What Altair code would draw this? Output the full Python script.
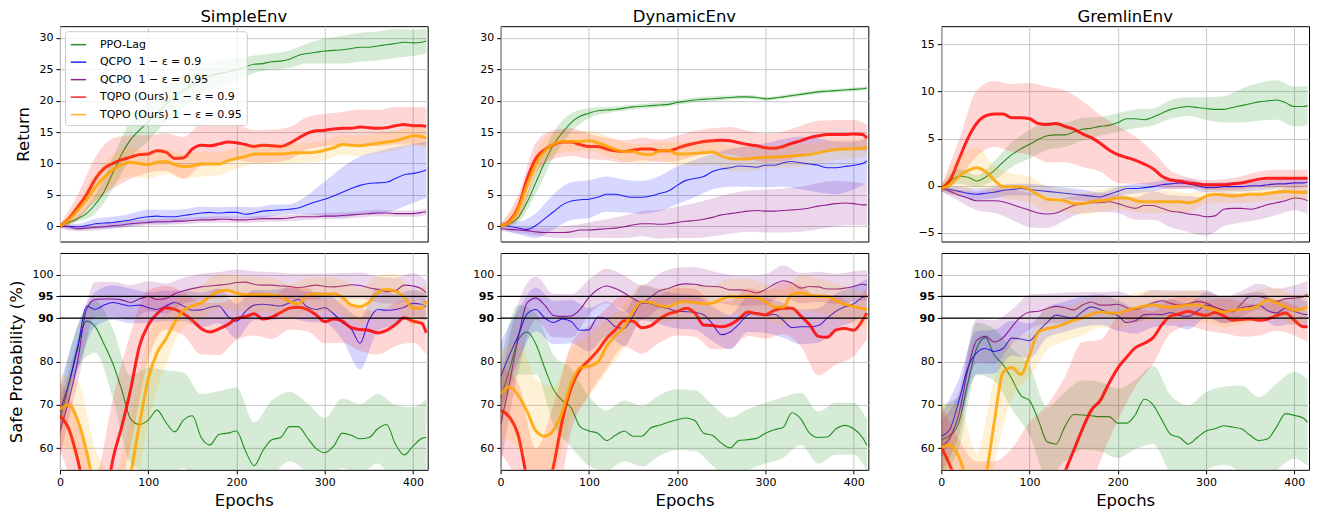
import altair as alt
import pandas as pd

# ---------------- axes / categories ----------------
EPOCHS = list(range(0, 420, 10)) + [415]          # 43 sample epochs
BAND_IDX = list(range(0, 42, 2)) + [42]           # band samples: 0,20,...,400,415
ENVS = ["SimpleEnv", "DynamicEnv", "GremlinEnv"]
SERIES = ["PPO-Lag", "QCPO\u00a0\u00a01 − ε = 0.9", "QCPO\u00a0\u00a01 − ε = 0.95",
          "TQPO (Ours) 1 − ε = 0.9", "TQPO (Ours) 1 − ε = 0.95"]
COLORS = ["#008000", "#0000ff", "#800080", "#ff0000", "#ffa500"]
LINE_WIDTHS = [1.1, 1.1, 1.1, 3.0, 3.0]
X_TICKS = [0, 100, 200, 300, 400]
RET_TICKS_A = [0, 5, 10, 15, 20, 25, 30]
RET_TICKS_G = [-5, 0, 5, 10, 15]
SAFE_TICKS = [60, 70, 80, 90, 95, 100]
SAFE_LEVELS = [90, 95]

# ---------------- Return: SimpleEnv ----------------
S_RET_PPO = [0, 0.6, 1.2, 2.0, 3.5, 5.5, 8.5, 11.5, 13.8, 15.3, 16.6, 18.0, 19.4, 20.6, 21.6, 22.5, 23.3, 23.9, 24.3, 24.6, 24.9, 25.4, 25.8, 25.9, 26.2, 26.3, 26.6, 27.2, 27.5, 27.7, 27.9, 28.0, 28.1, 28.3, 28.5, 28.5, 28.7, 28.9, 29.1, 29.3, 29.2, 29.3, 29.5]
S_RET_QC90 = [0, 0.0, -0.1, 0.1, 0.4, 0.5, 0.6, 0.8, 1.0, 1.3, 1.5, 1.6, 1.5, 1.5, 1.7, 1.9, 2.1, 2.2, 2.1, 2.2, 2.2, 1.9, 2.1, 2.4, 2.5, 2.6, 2.7, 2.9, 3.4, 3.9, 4.3, 4.8, 5.4, 6.0, 6.5, 6.8, 6.9, 7.0, 7.6, 8.2, 8.4, 8.7, 9.0]
S_RET_QC95 = [0, -0.1, -0.4, -0.3, -0.2, -0.1, 0.1, 0.2, 0.4, 0.5, 0.6, 0.7, 0.7, 0.8, 0.8, 0.9, 1.0, 1.0, 1.1, 1.1, 1.0, 1.0, 1.1, 1.2, 1.2, 1.2, 1.3, 1.5, 1.5, 1.5, 1.6, 1.6, 1.7, 1.8, 1.9, 2.0, 2.1, 2.1, 2.0, 2.0, 2.0, 2.2, 2.3]
S_RET_TQ90 = [0, 1.2, 3.0, 5.0, 7.5, 9.2, 10.0, 10.6, 11.0, 11.4, 11.5, 12.0, 11.8, 10.8, 10.9, 12.3, 12.9, 12.8, 13.1, 13.4, 13.3, 13.0, 12.7, 12.9, 12.8, 12.7, 13.2, 14.0, 14.8, 15.2, 15.3, 15.5, 15.6, 15.6, 15.8, 15.7, 15.6, 15.7, 16.0, 16.2, 16.0, 16.0, 15.9]
S_RET_TQ95 = [0, 1.0, 2.5, 4.2, 6.2, 7.8, 9.0, 9.8, 10.2, 10.0, 9.8, 10.2, 10.3, 9.8, 9.5, 9.6, 9.9, 9.9, 9.9, 10.4, 10.8, 11.1, 11.5, 11.5, 11.5, 11.5, 11.6, 11.7, 11.7, 11.8, 12.1, 12.5, 13.0, 12.9, 12.8, 13.0, 13.2, 13.4, 13.6, 14.0, 14.4, 14.3, 14.0]
S_RET_BAND_PPO = [0.3, 0.5, 1.5, 2.5, 3.0, 3.0, 2.8, 2.6, 2.4, 2.2, 1.8, 1.4, 1.3, 1.4, 1.6, 2.0, 2.2, 2.3, 2.3, 2.3, 2.1, 2.0]
S_RET_BAND_QC90 = [0.3, 0.5, 0.8, 0.9, 1.0, 1.1, 1.1, 1.0, 1.0, 0.9, 0.9, 0.9, 0.9, 0.8, 1.5, 2.8, 4.0, 4.6, 5.0, 5.0, 4.7, 4.5]
S_RET_BAND_QC95 = [0.3, 0.4, 0.5, 0.5, 0.5, 0.5, 0.5, 0.5, 0.5, 0.5, 0.5, 0.5, 0.5, 0.5, 0.5, 0.5, 0.5, 0.5, 0.5, 0.5, 0.5, 0.5]
S_RET_BAND_TQ90 = [0.3, 2.0, 3.5, 4.0, 3.5, 3.0, 3.0, 3.3, 3.3, 3.0, 2.8, 2.6, 2.6, 2.6, 2.6, 2.6, 2.6, 2.8, 2.9, 3.0, 3.0, 3.0]
S_RET_BAND_TQ95 = [0.3, 1.3, 2.2, 2.4, 2.3, 2.2, 2.0, 2.0, 2.0, 1.8, 1.7, 1.6, 1.6, 1.6, 1.6, 1.6, 1.6, 1.6, 1.6, 1.6, 1.6, 1.6]

# ---------------- Return: DynamicEnv ----------------
D_RET_PPO = [0, 0.4, 1.4, 3.8, 7.0, 10.2, 13.0, 14.9, 16.5, 17.5, 18.0, 18.4, 18.5, 18.6, 18.8, 19.0, 19.1, 19.2, 19.3, 19.4, 19.7, 19.9, 20.1, 20.2, 20.3, 20.4, 20.5, 20.6, 20.6, 20.5, 20.3, 20.4, 20.6, 20.8, 21.0, 21.2, 21.4, 21.5, 21.6, 21.7, 21.8, 21.9, 22.0]
D_RET_QC90 = [0.1, 0.0, -0.3, -0.5, 0.1, 1.2, 2.3, 3.4, 4.0, 4.2, 4.3, 4.6, 5.1, 5.1, 4.8, 4.6, 4.6, 4.8, 5.2, 5.6, 6.5, 7.3, 7.6, 7.9, 8.7, 9.1, 9.3, 9.6, 9.5, 9.4, 9.7, 9.7, 10.1, 10.3, 10.1, 9.9, 9.7, 9.3, 9.3, 9.5, 9.7, 10.0, 10.4]
D_RET_QC95 = [-0.4, -0.5, -0.6, -0.7, -0.9, -1.0, -1.0, -1.0, -0.9, -0.6, -0.6, -0.5, -0.4, -0.3, -0.1, 0.2, 0.4, 0.4, 0.3, 0.4, 0.6, 0.8, 0.9, 1.1, 1.4, 1.8, 2.0, 2.2, 2.4, 2.5, 2.4, 2.4, 2.5, 2.6, 2.7, 2.9, 3.2, 3.4, 3.6, 3.7, 3.6, 3.4, 3.4]
D_RET_TQ90 = [0, 0.8, 3.0, 7.5, 10.8, 12.2, 13.0, 13.4, 13.4, 13.0, 12.7, 12.7, 12.3, 12.0, 11.9, 12.1, 12.3, 12.3, 12.0, 12.0, 12.4, 12.9, 13.2, 13.5, 13.6, 13.7, 13.6, 13.3, 13.0, 12.8, 12.5, 12.4, 12.7, 13.2, 13.6, 14.1, 14.4, 14.6, 14.6, 14.6, 14.7, 14.6, 14.0]
D_RET_TQ95 = [0, 0.6, 2.7, 6.5, 9.8, 12.0, 13.1, 13.5, 13.5, 13.5, 13.6, 13.3, 12.8, 12.2, 11.9, 11.9, 11.5, 11.4, 12.0, 12.1, 11.5, 11.5, 11.6, 11.7, 11.8, 11.2, 10.8, 10.7, 10.7, 10.9, 11.0, 11.0, 11.1, 11.2, 11.3, 11.4, 11.7, 12.0, 12.2, 12.3, 12.3, 12.4, 12.7]
D_RET_BAND_PPO = [0.3, 0.8, 1.8, 2.0, 1.5, 0.8, 0.5, 0.4, 0.4, 0.4, 0.4, 0.4, 0.4, 0.3, 0.3, 0.3, 0.3, 0.3, 0.3, 0.3, 0.3, 0.3]
D_RET_BAND_QC90 = [0.5, 1.0, 2.0, 2.8, 3.0, 3.0, 2.8, 2.6, 2.6, 2.8, 3.0, 3.0, 2.8, 3.0, 3.2, 3.5, 3.8, 4.2, 4.3, 4.2, 3.8, 3.6]
D_RET_BAND_QC95 = [0.4, 0.5, 0.6, 0.8, 1.0, 1.2, 1.5, 1.8, 2.0, 2.3, 2.5, 2.8, 3.0, 3.2, 3.3, 3.4, 3.5, 3.6, 3.7, 3.6, 3.4, 3.3]
D_RET_BAND_TQ90 = [0.3, 2.0, 2.5, 2.3, 2.2, 2.0, 1.8, 1.8, 1.8, 1.8, 2.0, 2.0, 2.0, 2.2, 2.2, 2.3, 2.4, 2.4, 2.4, 2.3, 2.2, 2.2]
D_RET_BAND_TQ95 = [0.3, 1.5, 2.0, 1.8, 1.6, 1.6, 1.6, 1.5, 1.5, 1.5, 1.8, 2.0, 2.0, 2.0, 2.0, 1.8, 1.8, 1.8, 1.6, 1.6, 1.5, 1.5]

# ---------------- Return: GremlinEnv ----------------
G_RET_PPO = [-0.3, 0.5, 1.0, 0.9, 0.5, 0.9, 1.6, 2.5, 3.3, 3.9, 4.4, 4.9, 5.3, 5.4, 5.4, 5.7, 6.0, 6.1, 6.3, 6.4, 6.7, 7.1, 7.1, 7.0, 7.3, 7.7, 8.1, 8.3, 8.4, 8.3, 8.2, 8.1, 8.1, 8.3, 8.5, 8.7, 8.9, 9.0, 9.1, 8.8, 8.4, 8.4, 8.5]
G_RET_QC90 = [-0.3, -0.4, -0.6, -0.8, -0.9, -0.8, -0.7, -0.5, -0.4, -0.3, -0.4, -0.5, -0.6, -0.7, -0.8, -0.9, -1.0, -1.1, -1.2, -0.9, -0.6, -0.3, -0.3, -0.2, -0.1, 0.1, 0.2, 0.3, 0.2, 0.0, -0.2, -0.2, -0.1, -0.1, -0.1, 0.0, 0.0, 0.1, 0.2, 0.2, 0.3, 0.3, 0.4]
G_RET_QC95 = [-0.3, -0.6, -1.0, -1.3, -1.6, -1.6, -1.6, -1.7, -2.0, -2.3, -2.6, -2.9, -3.0, -2.9, -2.5, -2.1, -1.9, -1.8, -1.8, -1.7, -1.9, -2.2, -2.4, -2.1, -2.1, -2.4, -2.7, -2.8, -3.0, -3.1, -3.3, -3.2, -2.5, -2.4, -2.4, -2.5, -2.3, -2.0, -1.8, -1.6, -1.3, -1.4, -1.6]
G_RET_TQ90 = [-0.3, 0.6, 2.8, 5.0, 6.6, 7.4, 7.6, 7.6, 7.2, 7.2, 7.1, 6.6, 6.5, 6.6, 6.3, 6.0, 5.5, 5.1, 4.5, 3.8, 3.3, 3.0, 2.7, 2.3, 1.8, 1.0, 0.6, 0.5, 0.3, 0.2, 0.1, 0.1, 0.1, 0.2, 0.3, 0.5, 0.7, 0.8, 0.8, 0.8, 0.8, 0.8, 0.8]
G_RET_TQ95 = [-0.3, 0.1, 1.0, 1.6, 1.9, 1.5, 0.6, -0.1, -0.1, -0.1, -0.4, -1.0, -1.4, -1.5, -1.6, -1.9, -1.9, -1.7, -1.6, -1.5, -1.3, -1.3, -1.6, -1.7, -1.7, -1.7, -1.7, -1.7, -1.8, -1.6, -1.1, -0.9, -1.0, -1.1, -1.0, -0.9, -0.9, -0.8, -0.7, -0.6, -0.7, -0.7, -0.7]
G_RET_BAND_PPO = [0.3, 0.8, 0.6, 1.0, 1.3, 1.5, 1.5, 1.3, 1.2, 1.0, 1.0, 1.0, 0.9, 1.0, 1.0, 1.2, 1.4, 1.8, 2.0, 2.1, 2.1, 2.1]
G_RET_BAND_QC90 = [0.3, 0.5, 0.6, 0.6, 0.6, 0.6, 0.6, 0.6, 0.6, 0.5, 0.5, 0.5, 0.5, 0.5, 0.5, 0.5, 0.5, 0.5, 0.5, 0.5, 0.5, 0.5]
G_RET_BAND_QC95 = [0.3, 0.6, 1.0, 1.3, 1.6, 1.8, 1.5, 1.2, 1.0, 1.0, 1.0, 1.2, 1.5, 1.7, 1.9, 2.0, 1.8, 1.5, 1.3, 1.3, 1.3, 1.4]
G_RET_BAND_TQ90 = [0.3, 2.0, 3.5, 3.5, 3.6, 3.8, 4.0, 3.8, 3.5, 3.0, 3.0, 2.5, 1.8, 1.0, 0.6, 0.5, 0.6, 0.7, 0.8, 0.9, 0.9, 0.9]
G_RET_BAND_TQ95 = [0.3, 2.0, 2.2, 1.5, 1.4, 1.4, 1.3, 1.2, 1.2, 1.2, 1.2, 1.2, 1.2, 1.2, 1.0, 0.8, 0.8, 0.8, 0.8, 0.8, 0.8, 0.8]

# ---------------- Safe probability: SimpleEnv ----------------
S_SAFE_PPO = [67.0, 74.5, 83.5, 89.3, 88.0, 84.0, 79.5, 73.5, 66.8, 65.5, 66.5, 68.8, 66.0, 63.8, 66.5, 67.5, 62.5, 60.8, 63.2, 63.5, 64.0, 59.5, 56.0, 59.5, 62.0, 62.5, 65.0, 65.0, 62.5, 60.0, 59.0, 60.5, 63.5, 63.0, 62.2, 62.5, 64.5, 65.5, 61.0, 58.5, 60.5, 62.3, 62.5]
S_SAFE_QC90 = [68.5, 75.0, 83.0, 92.8, 92.0, 93.0, 93.6, 93.2, 92.8, 93.0, 92.4, 92.0, 92.8, 93.6, 92.8, 91.8, 91.9, 92.5, 92.8, 90.5, 89.3, 91.5, 93.0, 93.2, 93.0, 92.8, 93.5, 94.3, 92.6, 92.0, 92.4, 91.0, 89.0, 87.5, 84.2, 89.5, 92.0, 91.8, 92.0, 92.5, 93.4, 93.2, 92.5]
S_SAFE_QC95 = [64.0, 71.0, 80.0, 92.0, 94.3, 94.4, 94.4, 94.2, 93.6, 94.4, 95.0, 94.3, 94.5, 95.6, 96.3, 96.8, 97.2, 97.4, 97.6, 97.8, 98.2, 98.3, 97.8, 97.6, 97.6, 97.4, 97.3, 97.0, 97.3, 97.6, 97.3, 97.2, 97.4, 97.7, 97.5, 97.0, 96.6, 96.1, 96.3, 97.6, 97.4, 96.7, 95.8]
S_SAFE_TQ90 = [67.5, 64.5, 57.5, 48.0, 42.0, 46.0, 57.5, 65.0, 73.5, 83.5, 88.4, 91.0, 92.4, 92.0, 91.0, 89.5, 87.6, 86.8, 87.5, 88.5, 89.9, 90.3, 91.0, 89.8, 90.2, 91.3, 92.3, 92.5, 92.0, 90.8, 89.2, 89.8, 89.3, 87.8, 87.4, 87.2, 86.6, 87.2, 88.5, 90.1, 89.3, 88.8, 86.6]
S_SAFE_TQ95 = [69.0, 70.0, 66.5, 59.5, 50.0, 44.0, 42.0, 45.0, 54.0, 65.5, 76.0, 82.0, 85.2, 89.0, 91.8, 92.8, 93.5, 95.0, 96.2, 96.4, 95.8, 95.4, 95.4, 95.5, 95.3, 95.0, 93.8, 93.3, 95.2, 95.6, 95.5, 95.6, 94.8, 93.0, 92.7, 93.6, 95.9, 96.6, 96.2, 94.8, 92.3, 92.3, 94.0]
S_SAFE_BAND_PPO = [5, 5, 6, 8, 10, 12, 12, 11, 10, 10, 10, 10, 9, 8, 8, 8, 8, 8, 8, 9, 9, 9]
S_SAFE_BAND_QC90 = [6, 5, 4, 4, 4, 3.5, 3.5, 3.5, 4, 4, 4, 3.5, 3.5, 3.5, 3.5, 3.5, 4, 6, 5, 3.5, 3, 3]
S_SAFE_BAND_QC95 = [6, 5, 4, 4, 4, 3.5, 3.5, 3, 3, 3, 3, 3, 3, 3, 3, 3, 3, 3, 3, 3, 3, 3]
S_SAFE_BAND_TQ90 = [8, 10, 12, 14, 13, 8, 5, 5, 6, 6, 5, 5, 5, 5, 5, 5, 5, 5, 5, 5, 5, 5]
S_SAFE_BAND_TQ95 = [8, 9, 10, 12, 12, 10, 6, 4, 4, 4, 4, 4, 4, 4, 4, 4, 4, 4, 4, 4, 4, 4]

# ---------------- Safe probability: DynamicEnv ----------------
D_SAFE_PPO = [71.5, 78.0, 85.0, 86.8, 84.0, 78.5, 73.5, 71.0, 69.3, 65.0, 64.0, 63.5, 61.8, 63.0, 64.0, 62.8, 62.8, 64.7, 65.3, 66.0, 66.6, 67.0, 66.4, 63.5, 63.0, 61.2, 60.1, 61.8, 62.0, 62.3, 63.5, 64.3, 64.8, 68.2, 66.8, 63.5, 62.5, 62.6, 64.5, 65.3, 64.5, 62.5, 60.7]
D_SAFE_QC90 = [76.5, 81.5, 86.0, 91.0, 92.0, 90.0, 89.0, 89.8, 89.2, 87.2, 87.3, 90.2, 89.8, 88.0, 87.6, 90.5, 93.5, 93.3, 92.6, 92.2, 91.6, 91.5, 91.3, 90.8, 88.7, 86.2, 86.8, 88.6, 90.8, 91.3, 90.6, 90.9, 89.5, 87.8, 88.0, 88.0, 88.3, 90.0, 91.6, 92.6, 93.3, 94.8, 95.0]
D_SAFE_QC95 = [65.5, 75.0, 85.5, 93.5, 94.6, 93.0, 90.6, 90.4, 90.5, 92.0, 94.8, 96.6, 97.4, 96.8, 95.8, 94.5, 93.6, 94.8, 96.3, 96.8, 97.6, 97.9, 97.8, 97.4, 97.3, 97.1, 96.5, 96.5, 96.3, 95.8, 96.6, 97.8, 98.6, 98.1, 96.9, 97.3, 97.2, 96.7, 96.7, 96.9, 97.3, 97.8, 97.6]
D_SAFE_TQ90 = [68.8, 67.2, 63.0, 53.0, 46.0, 48.0, 56.0, 66.5, 74.0, 78.2, 80.3, 82.5, 85.3, 87.3, 89.4, 89.3, 87.8, 88.2, 89.8, 91.0, 91.5, 92.3, 91.2, 88.4, 88.3, 88.0, 88.5, 89.8, 91.4, 91.0, 90.8, 91.8, 92.3, 92.3, 90.5, 88.5, 85.8, 85.6, 87.3, 87.6, 87.2, 89.5, 91.2]
D_SAFE_TQ95 = [72.5, 74.2, 72.2, 68.5, 64.0, 62.8, 64.2, 68.5, 75.0, 78.6, 78.9, 79.8, 83.5, 86.0, 88.0, 91.5, 93.8, 93.6, 92.9, 92.6, 93.5, 93.8, 93.6, 93.3, 93.5, 94.3, 95.0, 94.8, 95.0, 94.7, 93.8, 92.6, 92.5, 95.5, 95.8, 95.3, 95.1, 95.0, 94.0, 93.2, 92.7, 92.2, 92.0]
D_SAFE_BAND_PPO = [8, 8, 7, 8, 9, 8, 7, 7, 7, 7, 7, 7, 7, 7, 7, 7, 7, 6, 6, 6, 6, 6]
D_SAFE_BAND_QC90 = [8, 6, 5, 5, 5, 5, 4, 4, 4, 4, 4, 4, 4, 4, 4, 4, 4, 4, 4, 4, 4, 4]
D_SAFE_BAND_QC95 = [10, 8, 5, 5, 5, 4, 4, 4, 4, 4, 4, 4, 3.5, 3.5, 3.5, 3.5, 3.5, 3.5, 3.5, 3.5, 3.5, 3.5]
D_SAFE_BAND_TQ90 = [10, 12, 14, 14, 10, 8, 7, 6, 6, 5.5, 5.5, 5.5, 5.5, 5.5, 5.5, 5.5, 6, 7, 9, 8, 6, 6]
D_SAFE_BAND_TQ95 = [10, 12, 12, 10, 8, 7, 6, 5, 4, 4, 4, 4, 4, 4, 4, 4, 4, 4, 4, 4, 4, 4]

# ---------------- Safe probability: GremlinEnv ----------------
G_SAFE_PPO = [62.0, 63.0, 66.0, 75.0, 83.0, 85.5, 81.5, 79.3, 76.0, 72.2, 71.0, 66.5, 61.5, 61.0, 65.0, 67.8, 67.7, 67.5, 67.3, 67.3, 65.8, 65.8, 67.8, 71.3, 70.0, 66.5, 63.2, 62.5, 61.0, 62.5, 64.0, 64.5, 65.2, 64.9, 64.5, 63.0, 61.8, 62.2, 65.0, 68.0, 67.6, 67.0, 66.0]
G_SAFE_QC90 = [62.8, 64.5, 71.0, 78.5, 82.0, 83.0, 82.3, 83.0, 85.4, 85.2, 84.8, 87.0, 89.0, 90.7, 90.3, 90.0, 91.5, 92.6, 92.0, 91.2, 90.6, 89.0, 89.4, 90.8, 90.9, 90.8, 91.3, 90.6, 90.4, 91.6, 93.0, 92.5, 91.8, 91.5, 92.4, 92.7, 93.0, 91.7, 91.2, 92.3, 91.6, 90.9, 90.8]
G_SAFE_QC95 = [60.5, 62.5, 68.0, 78.0, 84.8, 85.8, 84.5, 85.5, 88.0, 90.3, 91.4, 91.6, 92.2, 92.7, 92.4, 91.9, 93.0, 93.7, 93.0, 93.0, 93.2, 92.4, 92.0, 92.6, 93.5, 94.0, 93.4, 93.0, 93.3, 93.8, 93.5, 92.5, 91.8, 91.5, 93.3, 95.0, 95.0, 94.4, 93.8, 94.5, 94.6, 94.9, 95.5]
G_SAFE_TQ90 = [60.3, 56.0, 50.0, 45.0, 42.0, 40.0, 39.0, 39.0, 40.0, 41.0, 42.0, 44.0, 46.0, 49.0, 54.5, 59.5, 64.5, 68.8, 71.0, 75.0, 78.5, 81.0, 83.2, 84.2, 85.5, 88.5, 90.5, 91.0, 91.6, 91.0, 90.6, 91.3, 90.5, 89.5, 89.7, 89.8, 89.5, 89.8, 90.6, 91.2, 89.5, 88.0, 88.0]
G_SAFE_TQ95 = [60.3, 60.8, 58.0, 52.0, 47.0, 53.0, 66.0, 77.5, 78.6, 77.0, 81.5, 86.8, 87.6, 88.0, 88.7, 89.5, 90.0, 90.9, 91.4, 91.2, 91.1, 91.8, 92.3, 92.8, 93.0, 92.7, 92.5, 92.8, 93.0, 93.0, 92.5, 92.0, 91.4, 91.8, 92.0, 92.2, 93.0, 94.2, 93.5, 92.6, 91.8, 92.2, 92.5]
G_SAFE_BAND_PPO = [8, 6, 6, 6, 7, 8, 8, 8, 8, 8, 8, 8, 9, 9, 9, 9, 9, 10, 10, 10, 10, 10]
G_SAFE_BAND_QC90 = [5, 5, 5, 5, 4, 4, 3.5, 3.5, 3.5, 3.5, 3.5, 3, 3, 3, 3, 3, 3, 3, 3, 3, 3, 3]
G_SAFE_BAND_QC95 = [6, 5, 5, 5, 4, 4, 3.5, 3.5, 3, 3, 3, 3, 3, 3, 3, 3, 3, 3, 3, 3, 3, 3]
G_SAFE_BAND_TQ90 = [10, 12, 15, 18, 20, 24, 24, 22, 20, 14, 12, 9, 6, 4, 3.5, 3.5, 4, 4, 3.5, 3.5, 3.5, 3.5]
G_SAFE_BAND_TQ95 = [10, 12, 12, 10, 7, 5, 5, 4, 4, 3.5, 3.5, 3.5, 3.5, 3.5, 3.5, 3.5, 3.5, 3.5, 3.5, 3.5, 3.5, 3.5]

MEANS = {
    ("ret", 0): [S_RET_PPO, S_RET_QC90, S_RET_QC95, S_RET_TQ90, S_RET_TQ95],
    ("ret", 1): [D_RET_PPO, D_RET_QC90, D_RET_QC95, D_RET_TQ90, D_RET_TQ95],
    ("ret", 2): [G_RET_PPO, G_RET_QC90, G_RET_QC95, G_RET_TQ90, G_RET_TQ95],
    ("safe", 0): [S_SAFE_PPO, S_SAFE_QC90, S_SAFE_QC95, S_SAFE_TQ90, S_SAFE_TQ95],
    ("safe", 1): [D_SAFE_PPO, D_SAFE_QC90, D_SAFE_QC95, D_SAFE_TQ90, D_SAFE_TQ95],
    ("safe", 2): [G_SAFE_PPO, G_SAFE_QC90, G_SAFE_QC95, G_SAFE_TQ90, G_SAFE_TQ95],
}
BANDS = {
    ("ret", 0): [S_RET_BAND_PPO, S_RET_BAND_QC90, S_RET_BAND_QC95, S_RET_BAND_TQ90, S_RET_BAND_TQ95],
    ("ret", 1): [D_RET_BAND_PPO, D_RET_BAND_QC90, D_RET_BAND_QC95, D_RET_BAND_TQ90, D_RET_BAND_TQ95],
    ("ret", 2): [G_RET_BAND_PPO, G_RET_BAND_QC90, G_RET_BAND_QC95, G_RET_BAND_TQ90, G_RET_BAND_TQ95],
    ("safe", 0): [S_SAFE_BAND_PPO, S_SAFE_BAND_QC90, S_SAFE_BAND_QC95, S_SAFE_BAND_TQ90, S_SAFE_BAND_TQ95],
    ("safe", 1): [D_SAFE_BAND_PPO, D_SAFE_BAND_QC90, D_SAFE_BAND_QC95, D_SAFE_BAND_TQ90, D_SAFE_BAND_TQ95],
    ("safe", 2): [G_SAFE_BAND_PPO, G_SAFE_BAND_QC90, G_SAFE_BAND_QC95, G_SAFE_BAND_TQ90, G_SAFE_BAND_TQ95],
}
for k in MEANS:
    for m, b in zip(MEANS[k], BANDS[k]):
        assert len(m) == len(EPOCHS), (k, len(m))
        assert len(b) == len(BAND_IDX), (k, len(b))

FONT = "DejaVu Sans"
PANEL_W = 368
TOP_H, BOT_H = 215.5, 217
X_DOMAIN = [0, 416.6]
Y_DOMAINS = {("ret", 0): [-2.44, 31.86], ("ret", 1): [-2.44, 31.86],
             ("ret", 2): [-5.92, 16.93]}
SAFE_DOMAIN = [55.05, 105.0]

stroke_scale = alt.Scale(domain=SERIES, range=COLORS)

legend = alt.Legend(
    title=None, orient="top-left", offset=5, symbolType="stroke", symbolSize=240,
    labelFont=FONT, labelFontSize=11, labelColor="black", labelOffset=13,
    fillColor="rgba(255,255,255,0.8)", strokeColor="#cccccc", cornerRadius=3,
    padding=5, rowPadding=3.5, symbolOpacity=0.85, labelLimit=400,
)


def make_panel(metric, col, leg):
    top = metric == "ret"
    ydom = Y_DOMAINS[(metric, col)] if top else SAFE_DOMAIN
    yticks = (RET_TICKS_G if col == 2 else RET_TICKS_A) if top else SAFE_TICKS
    ytitle = None
    if col == 0:
        ytitle = "Return" if top else "Safe Probability (%)"
    xscale = alt.Scale(domain=X_DOMAIN, nice=False, zero=False)
    yscale = alt.Scale(domain=ydom, nice=False, zero=False)
    x_axis = alt.Axis(values=X_TICKS, labels=not top, ticks=not top,
                      title=None if top else "Epochs", labelFlush=False,
                      labelOverlap=False)
    yax_kw = dict(values=yticks, title=ytitle, labelOverlap=False)
    if not top:
        yax_kw["labelFontWeight"] = {
            "condition": {"test": "datum.value == 90 || datum.value == 95", "value": "bold"},
            "value": "normal"}
    y_axis = alt.Axis(**yax_kw)

    means = MEANS[(metric, col)]
    bands = BANDS[(metric, col)]
    layers = []
    for s in range(5):
        be = [EPOCHS[i] for i in BAND_IDX]
        lo = [means[s][i] - bands[s][k] for k, i in enumerate(BAND_IDX)]
        hi = [means[s][i] + bands[s][k] for k, i in enumerate(BAND_IDX)]
        bdf = pd.DataFrame({"epoch": be, "lo": lo, "hi": hi, "bandcolor": COLORS[s]})
        layers.append(
            alt.Chart(bdf).mark_area(opacity=0.16, clip=True, interpolate="monotone").encode(
                x=alt.X("epoch:Q", scale=xscale, axis=x_axis),
                y=alt.Y("lo:Q", scale=yscale, axis=y_axis),
                y2="hi:Q",
                fill=alt.Fill("bandcolor:N", scale=None),
            ))
        ldf = pd.DataFrame({"epoch": EPOCHS, "value": means[s], "series": SERIES[s]})
        layers.append(
            alt.Chart(ldf).mark_line(clip=True, opacity=0.85, interpolate="monotone",
                                     strokeWidth=LINE_WIDTHS[s]).encode(
                x=alt.X("epoch:Q", scale=xscale, axis=x_axis),
                y=alt.Y("value:Q", scale=yscale, axis=y_axis),
                stroke=alt.Stroke("series:N", scale=stroke_scale, legend=leg),
            ))
    if not top:
        rdf = pd.DataFrame({"level": SAFE_LEVELS})
        layers.append(
            alt.Chart(rdf).mark_rule(color="black", strokeWidth=1.3).encode(
                y=alt.Y("level:Q", scale=yscale, axis=y_axis)))
    props = dict(width=PANEL_W, height=TOP_H if top else BOT_H)
    if top:
        props["title"] = alt.Title(ENVS[col], fontSize=16.5, font=FONT,
                                   fontWeight="normal", color="black", offset=1)
    return alt.layer(*layers).properties(**props)


panels = [make_panel("ret", 0, legend)] + \
         [make_panel("ret", c, None) for c in (1, 2)] + \
         [make_panel("safe", c, None) for c in range(3)]

chart = alt.concat(*panels, columns=3, spacing={"row": 11, "column": 73},
                   bounds="flush").resolve_scale(
    x="independent", y="independent", stroke="independent"
).resolve_legend(stroke="independent").properties(
    padding={"left": 0, "top": 0, "right": 2, "bottom": 0}
).configure(font=FONT).configure_view(
    stroke="black", strokeWidth=1
).configure_axis(
    grid=True, gridColor="#c8c8c8", gridWidth=1, domain=False,
    labelFont=FONT, labelFontSize=11, labelColor="black", labelPadding=3,
    tickColor="black", tickSize=4, tickWidth=1,
    titleFont=FONT, titleFontSize=16.5, titleFontWeight="normal", titleColor="black",
).configure_axisY(titlePadding=7).configure_axisX(titlePadding=5)

chart.save("out.html", embed_options={"renderer": "svg", "actions": False})
